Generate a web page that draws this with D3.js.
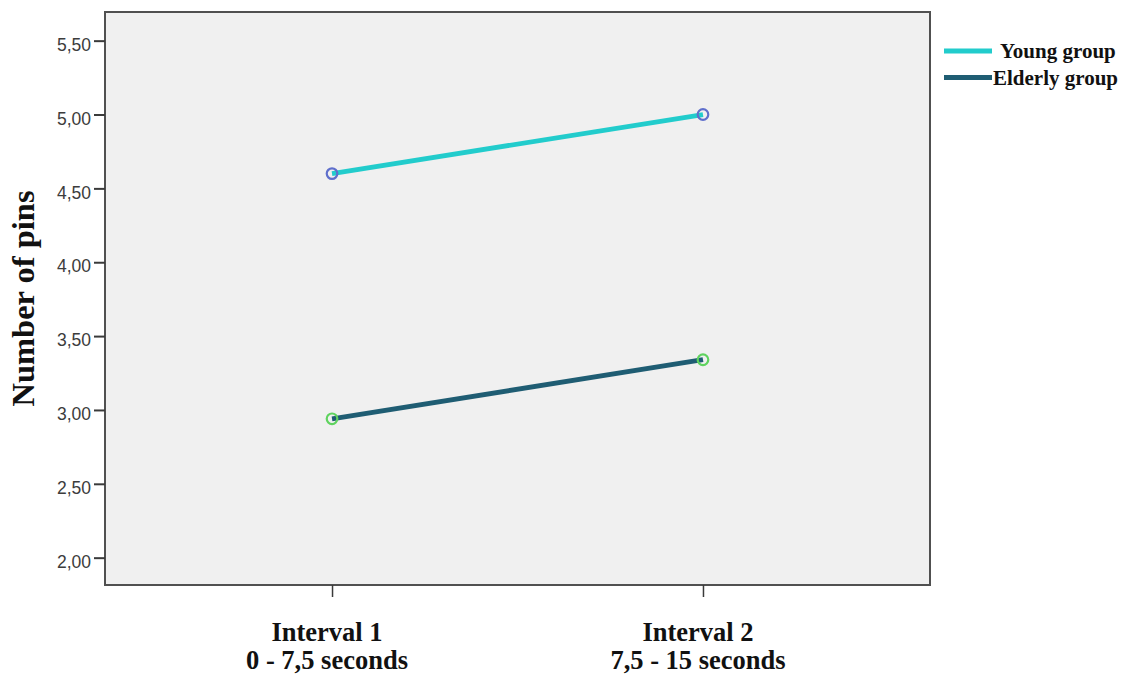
<!DOCTYPE html>
<html>
<head>
<meta charset="utf-8">
<script src="https://cdn.jsdelivr.net/npm/d3@7"></script>
<style>
  html, body { margin: 0; padding: 0; background: #ffffff; }
  svg { display: block; }
</style>
</head>
<body>
<svg id="chart" width="1126" height="675"></svg>
<script>
// ---- data ----
const categories = ["Interval 1", "Interval 2"];
const categorySubLabels = ["0 - 7,5 seconds", "7,5 - 15 seconds"];
const seriesNames = ["Young group", "Elderly group"];
const youngValues = [4.60, 5.00];
const elderlyValues = [2.94, 3.34];
const yTickValues = [2.00, 2.50, 3.00, 3.50, 4.00, 4.50, 5.00, 5.50];
const yAxisTitle = "Number of pins";

// ---- layout ----
const svg = d3.select("#chart");
const plot = { left: 105, right: 930, top: 12, bottom: 585 };
const colors = { young: "#22cccc", elderly: "#1f5d73" };
const markerStroke = { young: "#5f6fcc", elderly: "#5fd35f" };

const x = d3.scalePoint().domain(categories).range([plot.left, plot.right]).padding(0.612);
const y = d3.scaleLinear().domain([1.815, 5.694]).range([plot.bottom, plot.top]);

// plot background + frame
svg.append("rect")
  .attr("x", plot.left).attr("y", plot.top)
  .attr("width", plot.right - plot.left).attr("height", plot.bottom - plot.top)
  .attr("fill", "#f0f0f0")
  .attr("stroke", "#505050").attr("stroke-width", 2);

// y axis
const fmt = v => d3.format(".2f")(v).replace(".", ",");
const yAxis = d3.axisLeft(y).tickValues(yTickValues).tickFormat(fmt).tickSize(11).tickPadding(3);
const gy = svg.append("g").attr("transform", `translate(${plot.left},0)`).call(yAxis);
gy.select(".domain").remove();
gy.selectAll(".tick line").attr("stroke", "#3a3a3a").attr("stroke-width", 2);
gy.selectAll(".tick text")
  .attr("font-family", "'Liberation Sans', Arial, sans-serif")
  .attr("font-size", 17.5).attr("fill", "#3c3c3c").attr("dy", "0.55em");

// x axis
const xAxis = d3.axisBottom(x).tickSize(12).tickFormat("");
const gx = svg.append("g").attr("transform", `translate(0,${plot.bottom})`).call(xAxis);
gx.select(".domain").remove();
gx.selectAll(".tick line").attr("stroke", "#3a3a3a").attr("stroke-width", 1.5);

// x category labels (two lines)
const xl = svg.append("g");
categories.forEach((c, i) => {
  const t = xl.append("text")
    .attr("text-anchor", "middle")
    .attr("font-family", "'Liberation Serif', 'Times New Roman', serif")
    .attr("font-weight", "bold").attr("font-size", 26.5).attr("fill", "#111");
  t.append("tspan").attr("x", x(c) - 5).attr("y", 641).text(c);
  t.append("tspan").attr("x", x(c) - 5).attr("y", 669).text(categorySubLabels[i]);
});

// y title
svg.append("text")
  .attr("transform", `translate(34,${(plot.top + plot.bottom) / 2}) rotate(-90)`)
  .attr("text-anchor", "middle")
  .attr("font-family", "'Liberation Serif', 'Times New Roman', serif")
  .attr("font-weight", "bold").attr("font-size", 32.5).attr("fill", "#111")
  .text(yAxisTitle);

// lines
const line = d3.line().x((d, i) => x(categories[i])).y(d => y(d));
const series = [
  { name: seriesNames[0], values: youngValues, color: colors.young, mk: markerStroke.young },
  { name: seriesNames[1], values: elderlyValues, color: colors.elderly, mk: markerStroke.elderly }
];
series.forEach(s => {
  svg.append("path").datum(s.values)
    .attr("d", line).attr("fill", "none")
    .attr("stroke", s.color).attr("stroke-width", 4.8);
});
series.forEach(s => {
  svg.selectAll(null).data(s.values).enter().append("circle")
    .attr("cx", (d, i) => x(categories[i])).attr("cy", d => y(d))
    .attr("r", 5.3).attr("fill", "none")
    .attr("stroke", s.mk).attr("stroke-width", 2.2);
});

// legend
const legend = svg.append("g");
const legendRows = [
  { y: 51, textX: 1000, textY: 58 },
  { y: 77.5, textX: 993, textY: 85 }
];
series.forEach((s, i) => {
  const r = legendRows[i];
  legend.append("line")
    .attr("x1", 944).attr("x2", 992).attr("y1", r.y).attr("y2", r.y)
    .attr("stroke", s.color).attr("stroke-width", 4.8);
  legend.append("text")
    .attr("x", r.textX).attr("y", r.textY)
    .attr("font-family", "'Liberation Serif', 'Times New Roman', serif")
    .attr("font-weight", "bold").attr("font-size", 21).attr("fill", "#111")
    .text(s.name);
});
</script>
</body>
</html>
